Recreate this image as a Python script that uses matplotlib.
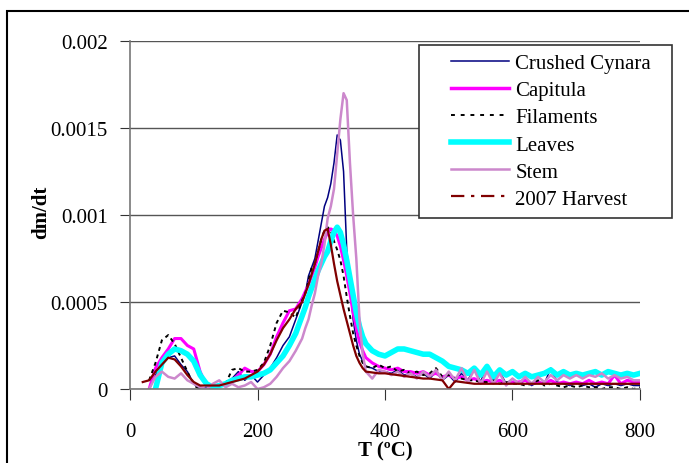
import numpy as np
import matplotlib.pyplot as plt
from matplotlib.lines import Line2D
from matplotlib.patches import Rectangle

nan = np.nan

# temperature grid (degC)
T = ([20, 30, 40, 50, 60, 70, 80, 90, 100, 110, 120, 130, 140, 150, 160, 170, 180,
      190, 200, 210, 220, 230, 240, 250, 260, 270]
     + [275, 280, 285, 290, 295, 300, 305, 310, 315, 320, 325, 330, 335, 340, 345,
        350, 355, 360, 365]
     + [370, 380, 390, 400, 410, 420, 430, 440, 450, 460, 470, 480, 490, 500, 510,
        520, 530, 540, 550, 560, 570, 580, 590, 600, 610, 620, 630, 640, 650, 660,
        670, 680, 690, 700, 710, 720, 730, 740, 750, 760, 770, 780, 790, 800])

# dm/dt values in units of 1e-4
crushed = ([nan, 0.0, 0.8, 1.4, 1.8, 1.9, 1.4, 1.0, 0.3, 0.0, 0.1, 0.0, 0.2, 0.3, 0.6,
            1.0, 0.5, 0.8, 0.4, 0.8, 1.2, 1.8, 2.5, 3.0, 4.0, 5.0]
           + [5.5, 6.5, 7.0, 7.5, 8.5, 9.5, 10.5, 11.0, 11.8, 13.0, 14.6, 14.3, 12.5,
              8.0, 6.0, 4.0, 2.8, 2.0, 1.6]
           + [1.3, 1.2, 1.0, 1.0, 0.9, 1.1, 0.8, 0.9, 0.7, 0.9, 0.6, 1.0, 0.5, 0.8, 0.4,
              0.9, 0.5, 1.2, 0.4, 1.4, 0.5, 1.0, 0.3, 0.6, 0.3, 0.5, 0.2, 0.4, 0.3, 1.2,
              0.4, 0.3, 0.2, 0.4, 0.2, 0.3, 0.1, 0.3, 0.2, 0.3, 0.2, 0.3, 0.2, 0.2])

capitula = ([nan, 0.0, 1.2, 1.8, 2.3, 2.9, 2.9, 2.5, 2.3, 1.0, 0.2, 0.2, 0.2, 0.3, 0.5,
             0.8, 1.2, 1.0, 1.0, 1.4, 2.0, 3.0, 3.8, 4.5, 4.6, 5.2]
            + [5.6, 6.0, 6.5, 7.0, 7.6, 8.1, 8.6, 9.0, 9.2, 9.1, 8.8, 8.2, 7.4, 6.5,
               5.5, 4.4, 3.5, 2.7, 2.2]
            + [1.8, 1.5, 1.3, 1.2, 1.1, 1.2, 1.0, 1.0, 0.9, 1.0, 0.8, 0.9, 0.7, 0.8, 0.6,
               0.7, 0.5, 0.6, 0.4, 0.5, 0.4, 0.5, 0.3, 0.4, 0.4, 0.5, 0.3, 0.4, 0.3, 0.5,
               0.3, 0.4, 0.3, 0.4, 0.3, 0.5, 0.3, 0.4, 0.3, 0.8, 0.3, 0.5, 0.4, 0.4])

filaments = ([nan, 0.5, 1.5, 2.8, 3.1, 2.6, 1.8, 1.0, 0.2, 0.0, 0.0, 0.1, 0.2, 0.3, 1.1,
              1.2, 1.0, 1.0, 1.1, 1.5, 2.5, 3.8, 4.5, 4.4, 4.1, 5.1]
             + [5.5, 6.2, 7.0, 7.2, 7.9, 8.6, 9.1, 9.3, 9.1, 8.5, 8.0, 7.4, 6.5, 5.3,
                4.2, 3.2, 2.5, 1.9, 1.5]
             + [1.3, 1.2, 1.4, 1.2, 1.3, 1.0, 1.1, 0.9, 1.0, 0.8, 0.9, 1.2, 0.7, 0.8, 0.6,
                0.6, 0.5, 0.5, 0.4, 0.4, 0.5, 0.3, 0.4, 0.3, 0.3, 0.2, 0.3, 0.5, 0.2, 0.3,
                0.2, 0.1, 0.2, 0.1, 0.2, 0.1, 0.1, 0.0, 0.1, 0.1, 0.0, 0.1, 0.0, 0.1])

leaves = ([nan, nan, 0.0, 1.5, 2.0, 2.3, 2.2, 2.0, 1.6, 0.8, 0.3, 0.1, 0.2, 0.3, 0.5,
           0.6, 0.7, 0.7, 0.8, 0.9, 1.1, 1.5, 1.9, 2.5, 3.2, 4.2]
          + [4.7, 5.3, 5.8, 6.3, 6.8, 7.2, 7.6, 7.9, 8.5, 9.0, 9.3, 9.0, 8.3, 7.4,
             6.4, 5.4, 4.4, 3.6, 3.0]
          + [2.6, 2.2, 2.0, 1.9, 2.1, 2.3, 2.3, 2.2, 2.1, 2.0, 2.0, 1.8, 1.6, 1.3, 1.2,
             1.1, 0.9, 1.2, 0.8, 1.3, 0.7, 1.1, 0.8, 1.0, 0.7, 0.9, 0.7, 0.8, 0.9, 1.1,
             0.8, 1.0, 0.8, 0.9, 0.8, 0.9, 1.0, 0.8, 1.0, 0.9, 0.8, 0.9, 0.8, 0.9])

stem = ([nan, 0.0, 0.7, 1.0, 0.7, 0.6, 0.9, 0.5, 0.3, 0.1, 0.0, 0.3, 0.5, 0.1, 0.3,
         0.1, 0.2, 0.4, 0.0, 0.1, 0.3, 0.7, 1.2, 1.6, 2.2, 2.9]
        + [3.5, 4.0, 4.8, 5.5, 6.5, 7.2, 8.3, 9.8, 10.5, 11.5, 13.5, 15.5, 17.0, 16.6,
           13.0, 10.0, 7.5, 4.0, 2.0]
        + [1.0, 0.6, 1.1, 1.0, 0.8, 1.0, 0.7, 0.9, 0.6, 1.0, 0.7, 1.1, 0.5, 1.0, 0.5,
           1.2, 0.4, 1.1, 0.3, 1.0, 0.3, 0.9, 0.2, 0.6, 0.3, 0.7, 0.3, 0.7, 0.4, 0.8,
           0.5, 0.8, 0.6, 0.8, 0.6, 0.8, 0.7, 0.9, 0.6, 0.8, 0.6, 0.7, 0.5, 0.5])

harvest = ([0.4, 0.5, 1.0, 1.4, 1.8, 1.7, 1.3, 0.8, 0.4, 0.2, 0.2, 0.2, 0.2, 0.3, 0.4,
            0.5, 0.6, 0.8, 1.0, 1.4, 2.0, 2.8, 3.5, 4.0, 4.6, 5.0]
           + [5.5, 6.0, 6.6, 7.2, 7.9, 8.6, 9.1, 9.2, 8.3, 7.2, 6.2, 5.4, 4.6, 3.9,
              3.2, 2.5, 1.9, 1.5, 1.2]
           + [1.0, 0.95, 0.9, 0.9, 0.85, 0.8, 0.75, 0.7, 0.65, 0.6, 0.6, 0.55, 0.5, 0.0,
              0.45, 0.4, 0.35, 0.3, 0.3, 0.3, 0.3, 0.3, 0.3, 0.3, 0.3, 0.3, 0.3, 0.3,
              0.3, 0.3, 0.3, 0.3, 0.3, 0.3, 0.3, 0.3, 0.3, 0.3, 0.3, 0.3, 0.3, 0.3,
              0.3, 0.3])

labels = ["Crushed Cynara", "Capitula", "Filaments", "Leaves", "Stem", "2007 Harvest"]
yticks = [0, 0.0005, 0.001, 0.0015, 0.002]
ytick_labels = ["0", "0.0005", "0.001", "0.0015", "0.002"]
xticks = [0, 200, 400, 600, 800]

plt.rcParams["font.family"] = ["Liberation Serif", "DejaVu Serif"]

fig = plt.figure(figsize=(6.89, 4.64), dpi=100)
ax = fig.add_axes([130 / 689, 1 - 390 / 464, 510 / 689, 348 / 464])

t = np.array(T)
sc = 1e-4
ax.plot(t, np.array(crushed) * sc, color="#000080", lw=1.1)
ax.plot(t, np.array(capitula) * sc, color="#ff00ff", lw=2.2)
ax.plot(t, np.array(filaments) * sc, color="black", lw=1.4, ls=(0, (2, 2)))
ax.plot(t, np.array(leaves) * sc, color="#00ffff", lw=4)
ax.plot(t, np.array(stem) * sc, color="#cc88cc", lw=1.8)
ax.plot(t, np.array(harvest) * sc, color="#800000", lw=1.6)

ax.set_xlim(0, 800)
ax.set_ylim(0, 0.002)
ax.set_xticks(xticks)
ax.set_yticks(yticks)
ax.set_yticklabels(ytick_labels)
ax.grid(True, axis="y", color="#555555", lw=1)
ax.set_axisbelow(True)
for s in ["top", "right"]:
    ax.spines[s].set_visible(False)
for s in ["left", "bottom"]:
    ax.spines[s].set_color("#777777")
    ax.spines[s].set_linewidth(1.2)
ax.tick_params(axis="x", length=8, direction="out", pad=16, labelsize=15, color="#333333")
ax.tick_params(axis="y", length=7, direction="out", pad=9, labelsize=15, color="#333333")

fig.text(385 / 689, 1 - 451 / 464, "T (ºC)", ha="center", va="center",
         fontsize=15, fontweight="bold")
fig.text(41 / 689, 1 - 212 / 464, "dm/dt", ha="center", va="center",
         fontsize=15, fontweight="bold", rotation=90)

# legend with its own box
handles = [
    Line2D([], [], color="#000080", lw=1.1),
    Line2D([], [], color="#ff00ff", lw=2.5),
    Line2D([], [], color="black", lw=1.4, ls=(0, (2, 3))),
    Line2D([], [], color="#00ffff", lw=4),
    Line2D([], [], color="#cc88cc", lw=1.8),
    Line2D([], [], color="#800000", lw=1.6, ls=(0, (6, 3, 1.5, 3))),
]
fig.patches.append(Rectangle((419 / 689, 1 - 219 / 464), 253 / 689, 173 / 464,
                             transform=fig.transFigure, fill=True, facecolor="white",
                             edgecolor="#333333", lw=1.2, zorder=5))
leg = fig.legend(handles, labels, loc="upper left", bbox_to_anchor=(434 / 689, 1 - 38 / 464),
                 frameon=False, fontsize=15, handlelength=2.8, handletextpad=0.3,
                 labelspacing=0.36, borderpad=0.3)
leg.set_zorder(6)

# outer frame
fig.patches.append(Rectangle((7 / 689, -0.1), 1.2, 1 - 12 / 464 + 0.1,
                             transform=fig.transFigure, fill=False,
                             edgecolor="black", lw=1.5))

fig.savefig("out.png", dpi=100)
